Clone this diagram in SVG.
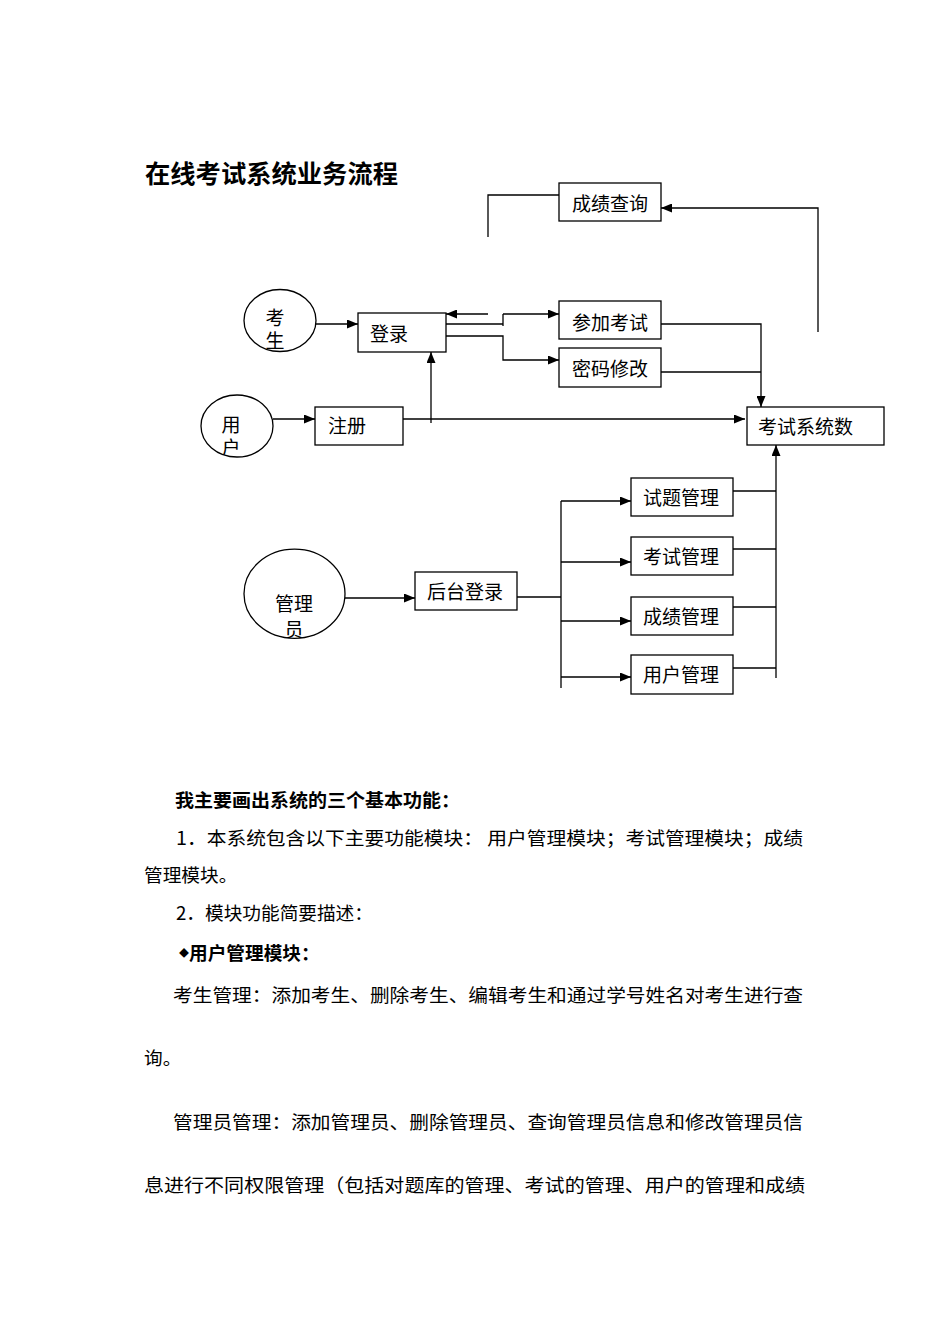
<svg xmlns="http://www.w3.org/2000/svg" width="950" height="1344" viewBox="0 0 950 1344">
<style>
text{font-family:"Noto Sans CJK SC","Noto Sans",sans-serif;fill:#000}
.n{font-size:19px}
.v{font-size:19px;writing-mode:vertical-rl;letter-spacing:4px}
.b{font-size:18.67px}
.bold{font-weight:bold}
.box{fill:#fff;stroke:#000;stroke-width:1.3}
.ell{fill:#fff;stroke:#000;stroke-width:1.3}
.c{fill:none;stroke:#000;stroke-width:1.3}
.a{fill:none;stroke:#000;stroke-width:1.3;marker-end:url(#ar)}
</style>
<defs>
<marker id="ar" markerWidth="11" markerHeight="9" refX="11" refY="4.5" orient="auto" markerUnits="userSpaceOnUse">
<path d="M0,0 L11,4.5 L0,9 z" fill="#000"/>
</marker>
<clipPath id="cpKs"><ellipse cx="280" cy="320.5" rx="37" ry="31"/></clipPath>
<clipPath id="cpYh"><ellipse cx="237" cy="426" rx="37" ry="31"/></clipPath>
<clipPath id="cpGl"><ellipse cx="294.5" cy="593.7" rx="51" ry="44.6"/></clipPath>
</defs>
<rect width="950" height="1344" fill="#fff"/>

<text x="145" y="182.5" font-size="25" class="bold" textLength="253" lengthAdjust="spacingAndGlyphs">在线考试系统业务流程</text>

<g id="connectors">
<polyline class="c" points="488,237 488,195 559,195"/>
<polyline class="a" points="818,332 818,208 661,208"/>
<line class="a" x1="316" y1="324" x2="358" y2="324"/>
<line class="a" x1="488" y1="314" x2="446" y2="314"/>
<polyline class="c" points="446,324 503,324"/>
<line class="c" x1="503" y1="326" x2="503" y2="314"/>
<line class="a" x1="503" y1="314" x2="559" y2="314"/>
<polyline class="a" points="446,336 503,336 503,360 559,360"/>
<line class="a" x1="273" y1="419" x2="315" y2="419"/>
<line class="a" x1="403" y1="419" x2="745" y2="419"/>
<line class="a" x1="431" y1="423" x2="431" y2="352"/>
<polyline class="a" points="661,324 761,324 761,407"/>
<line class="c" x1="661" y1="372" x2="761" y2="372"/>
<line class="a" x1="345" y1="598" x2="415" y2="598"/>
<line class="c" x1="517" y1="597" x2="561" y2="597"/>
<line class="c" x1="561" y1="501" x2="561" y2="688"/>
<line class="a" x1="561" y1="501" x2="631" y2="501"/>
<line class="a" x1="561" y1="562" x2="631" y2="562"/>
<line class="a" x1="561" y1="621" x2="631" y2="621"/>
<line class="a" x1="561" y1="677" x2="631" y2="677"/>
<line class="c" x1="733" y1="491" x2="776" y2="491"/>
<line class="c" x1="733" y1="549" x2="776" y2="549"/>
<line class="c" x1="733" y1="607" x2="776" y2="607"/>
<line class="c" x1="733" y1="668" x2="776" y2="668"/>
<line class="a" x1="776" y1="678" x2="776" y2="445"/>
</g>

<g id="node-cjcx"><rect class="box" x="559" y="183" width="102" height="38"/><text class="n" x="572" y="211">成绩查询</text></g>
<g id="node-ks"><ellipse class="ell" cx="280" cy="320.5" rx="36" ry="31"/><g clip-path="url(#cpKs)"><text class="v" x="275" y="308.5">考生</text></g></g>
<g id="node-dl"><rect class="box" x="358" y="313" width="88" height="39"/><text class="n" x="370" y="341">登录</text></g>
<g id="node-cjks"><rect class="box" x="559" y="301" width="102" height="38"/><text class="n" x="572" y="330">参加考试</text></g>
<g id="node-mmxg"><rect class="box" x="559" y="348" width="102" height="39"/><text class="n" x="572" y="376">密码修改</text></g>
<g id="node-yh"><ellipse class="ell" cx="237" cy="426" rx="36" ry="31"/><g clip-path="url(#cpYh)"><text class="v" x="231" y="415.5">用户</text></g></g>
<g id="node-zc"><rect class="box" x="315" y="407" width="88" height="38"/><text class="n" x="328" y="433">注册</text></g>
<g id="node-ksxts"><rect class="box" x="747" y="407" width="137" height="38"/><text class="n" x="758" y="434">考试系统数</text></g>
<g id="node-gly"><ellipse class="ell" cx="294.5" cy="593.7" rx="50.5" ry="44.6"/><g clip-path="url(#cpGl)"><text class="n" x="294" y="611" text-anchor="middle">管理</text><text class="n" x="294" y="637" text-anchor="middle">员</text></g></g>
<g id="node-htdl"><rect class="box" x="415" y="572" width="102" height="38"/><text class="n" x="427" y="599">后台登录</text></g>
<g id="node-stgl"><rect class="box" x="631" y="478" width="102" height="38"/><text class="n" x="643" y="505">试题管理</text></g>
<g id="node-ksgl"><rect class="box" x="631" y="537" width="102" height="38"/><text class="n" x="643" y="564">考试管理</text></g>
<g id="node-cjgl"><rect class="box" x="631" y="597" width="102" height="38"/><text class="n" x="643" y="624">成绩管理</text></g>
<g id="node-yhgl"><rect class="box" x="631" y="655" width="102" height="39"/><text class="n" x="643" y="682">用户管理</text></g>

<g id="body-text">
<text class="b bold" x="175" y="807" textLength="285" lengthAdjust="spacingAndGlyphs">我主要画出系统的三个基本功能：</text>
<text class="b" x="176" y="845" textLength="627" lengthAdjust="spacingAndGlyphs">1．本系统包含以下主要功能模块： 用户管理模块；考试管理模块；成绩</text>
<text class="b" x="144" y="882">管理模块。</text>
<text class="b" x="176" y="920">2．模块功能简要描述：</text>
<text class="b bold" x="179" y="960"><tspan font-size="10" dy="-3">◆</tspan><tspan dy="3">用户管理模块：</tspan></text>
<text class="b" x="173" y="1002" textLength="630" lengthAdjust="spacingAndGlyphs">考生管理：添加考生、删除考生、编辑考生和通过学号姓名对考生进行查</text>
<text class="b" x="144" y="1065">询。</text>
<text class="b" x="173" y="1129" textLength="630" lengthAdjust="spacingAndGlyphs">管理员管理：添加管理员、删除管理员、查询管理员信息和修改管理员信</text>
<text class="b" x="144" y="1192" textLength="661" lengthAdjust="spacingAndGlyphs">息进行不同权限管理（包括对题库的管理、考试的管理、用户的管理和成绩</text>
</g>
</svg>
